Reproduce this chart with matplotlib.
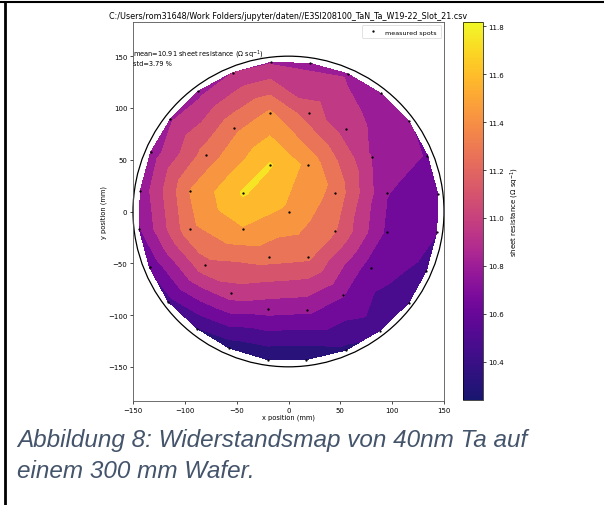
import numpy as np
import matplotlib
matplotlib.use('Agg')
from matplotlib import pyplot as plt
import matplotlib.tri as tri
from matplotlib.colors import Normalize, ListedColormap
from matplotlib.cm import ScalarMappable
from matplotlib.lines import Line2D

# measured spots on the wafer (mm)
x_pos = [0,
         45, 19, -18, -44, -44, -19, 19, 45,
         95, 81, 55, 20, -18, -53, -80, -95, -95, -81, -55, -20, 18, 53, 80, 95,
         144, 134, 116, 89, 57, 21, -17, -54, -87, -114, -133, -143,
         -144, -134, -116, -88, -57, -20, 17, 55, 88, 116, 133, 143]
y_pos = [0,
         18, 45, 45, 18, -17, -44, -44, -19,
         18, 53, 80, 95, 95, 81, 55, 20, -17, -52, -79, -94, -95, -81, -55, -20,
         17, 54, 87, 114, 133, 143, 144, 134, 116, 89, 57, 20,
         -17, -54, -87, -113, -132, -143, -143, -134, -115, -88, -57, -20]
# sheet resistance (Ohm/sq)
rs = [11.47,
      11.30, 11.46, 11.675, 11.68, 11.49, 11.25, 11.22, 11.20,
      10.72, 10.86, 10.95, 11.10, 11.37, 11.30, 11.25, 11.35, 11.30, 11.13, 10.95, 10.78, 10.75, 10.72, 10.62, 10.68,
      10.62, 10.70, 10.72, 10.78, 10.85, 10.83, 10.86, 10.87, 10.82, 10.85, 10.78, 10.76,
      10.70, 10.58, 10.50, 10.39, 10.30, 10.26, 10.26, 10.36, 10.45, 10.48, 10.52, 10.56]

fname = 'C:/Users/rom31648/Work Folders/jupyter/daten//E3SI208100_TaN_Ta_W19-22_Slot_21.csv'
rs_min, rs_max = 10.24, 11.82
x_ticks = [-150, -100, -50, 0, 50, 100, 150]
y_ticks = [-150, -100, -50, 0, 50, 100, 150]
cb_ticks = [10.4, 10.6, 10.8, 11.0, 11.2, 11.4, 11.6, 11.8]

# plasma, with the low (blue) end a bit duller like in the screenshot
cols = plt.get_cmap('plasma')(np.linspace(0, 1, 256))
t = np.linspace(0, 1, 256)
w = np.clip(0.4 * (1 - t / 0.4), 0, None)
cols[:, :3] = cols[:, :3] * (1 - w[:, None]) + np.array([0.15, 0.17, 0.30]) * w[:, None]
cmap = ListedColormap(cols)

W, H = 604, 506
fig = plt.figure(figsize=(W / 100, H / 100), dpi=100)

ax = fig.add_axes([133 / W, 1 - 402 / H, 311 / W, 379 / H])
norm = Normalize(rs_min, rs_max)
levels = np.linspace(rs_min, rs_max, 11)
triang = tri.Triangulation(x_pos, y_pos)
ax.tricontourf(triang, rs, levels=levels, cmap=cmap, norm=norm)
ax.plot(x_pos, y_pos, '.', color='k', ms=1.3, label='measured spots')
ax.add_patch(plt.Circle((0, 0), 150, fill=False, color='k', lw=0.9, clip_on=False))

ax.set_xlim(-150, 150)
ax.set_ylim(-183, 183)
ax.set_xticks(x_ticks)
ax.set_yticks(y_ticks)
ax.tick_params(labelsize=5, length=2.5, width=0.5, pad=1.5)
for s in ax.spines.values():
    s.set_linewidth(0.6)
    s.set_color('#555555')
ax.set_xlabel('x position (mm)', fontsize=4.8, labelpad=1)
ax.set_ylabel('y position (mm)', fontsize=4.8, labelpad=1)
ax.set_title(fname, fontsize=5.8, pad=3)
ax.text(-150, 149, 'mean=10.91 sheet resistance (\u03a9 sq$^{-1}$)\nstd=3.79 %',
        fontsize=4.8, va='center', ha='left', linespacing=1.05)
leg = ax.legend(loc='upper right', fontsize=4.6, handlelength=2.2, borderpad=0.6,
                borderaxespad=0.5, markerscale=1.0)
leg.get_frame().set_linewidth(0.5)

cax = fig.add_axes([463.5 / W, 1 - 401 / H, 19.5 / W, 378.5 / H])
cb = fig.colorbar(ScalarMappable(norm=norm, cmap=cmap), cax=cax)
cb.set_ticks(cb_ticks)
cb.ax.tick_params(labelsize=5, length=2.5, width=0.5, pad=1.5)
cb.outline.set_linewidth(0.5)
cb.set_label('sheet resistance (\u03a9 sq$^{-1}$)', fontsize=5, labelpad=3)

# document frame and caption
fig.add_artist(Line2D([5 / W, 5 / W], [0, 1 - 3 / H], color='k', lw=2))
fig.add_artist(Line2D([0, 1], [1 - 3 / H, 1 - 3 / H], color='k', lw=1.5))
cap_color = '#44546a'
fig.text(17 / W, 1 - 447 / H, 'Abbildung 8: Widerstandsmap von 40nm Ta auf',
         fontsize=17.5, style='italic', family='Liberation Sans', color=cap_color, va='baseline')
fig.text(17 / W, 1 - 478 / H, 'einem 300 mm Wafer.',
         fontsize=17.5, style='italic', family='Liberation Sans', color=cap_color, va='baseline')

fig.savefig('out.png', dpi=100)
